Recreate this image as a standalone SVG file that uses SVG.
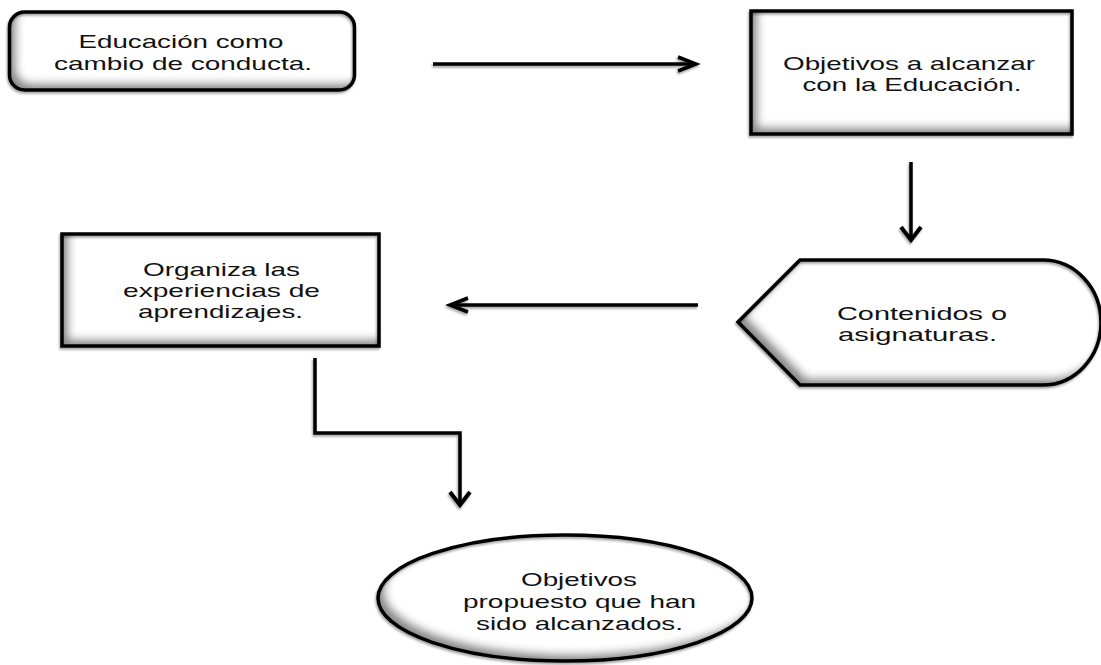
<svg xmlns="http://www.w3.org/2000/svg" width="1101" height="665" viewBox="0 0 1101 665">
  <style>
    .fill { fill: #ffffff; stroke: none; filter: url(#inset); }
    .edge { fill: none; stroke: #000; stroke-width: 3.5; filter: url(#drop); }
    .lbl { font-family: "Liberation Sans", Arial, sans-serif; font-size: 19px; fill: #111; text-anchor: middle; }
    .conn { fill: none; stroke: #000; stroke-width: 3.5; filter: url(#drop); }
  </style>
  <defs>
    <filter id="inset" x="-10%" y="-20%" width="120%" height="140%">
      <feComponentTransfer in="SourceAlpha" result="inv">
        <feFuncA type="table" tableValues="1 0"/>
      </feComponentTransfer>
      <feOffset in="inv" dx="7" dy="-7" result="off"/>
      <feGaussianBlur in="off" stdDeviation="4" result="blur"/>
      <feComposite in="blur" in2="SourceAlpha" operator="in" result="sh"/>
      <feColorMatrix in="sh" type="matrix" values="0 0 0 0 0  0 0 0 0 0  0 0 0 0 0  0 0 0 0.75 0" result="sh2"/>
      <feMerge>
        <feMergeNode in="SourceGraphic"/>
        <feMergeNode in="sh2"/>
      </feMerge>
    </filter>
    <filter id="drop" filterUnits="userSpaceOnUse" x="0" y="0" width="1101" height="665">
      <feDropShadow dx="-1" dy="2" stdDeviation="1.2" flood-color="#000" flood-opacity="0.35"/>
    </filter>
    <marker id="ah" markerUnits="userSpaceOnUse" viewBox="-25 -15 30 30" markerWidth="30" markerHeight="30" refX="0" refY="0" orient="auto" overflow="visible">
      <path d="M-18,-7 L0,0 L-18,7" fill="none" stroke="#000" stroke-width="3.5" stroke-linejoin="miter"/>
    </marker>
    <marker id="av" markerUnits="userSpaceOnUse" viewBox="-25 -15 30 30" markerWidth="30" markerHeight="30" refX="0" refY="0" orient="auto" overflow="visible">
      <path d="M-13,-10 L0,0 L-13,10" fill="none" stroke="#000" stroke-width="4" stroke-linejoin="miter"/>
    </marker>
  </defs>

  <rect width="1101" height="665" fill="#ffffff"/>

  <g id="n1">
    <rect class="fill" x="9.5" y="12" width="345" height="78" rx="15"/>
    <rect class="edge" x="9.5" y="12" width="345" height="78" rx="15"/>
    <text class="lbl" x="181" y="48" textLength="205" lengthAdjust="spacingAndGlyphs">Educación como</text>
    <text class="lbl" x="183" y="69.5" textLength="258" lengthAdjust="spacingAndGlyphs">cambio de conducta.</text>
  </g>

  <g id="n2">
    <rect class="fill" x="751" y="11" width="321" height="123"/>
    <rect class="edge" x="751" y="11" width="321" height="123"/>
    <text class="lbl" x="909" y="69.5" textLength="252" lengthAdjust="spacingAndGlyphs">Objetivos a alcanzar</text>
    <text class="lbl" x="912" y="90.5" textLength="219" lengthAdjust="spacingAndGlyphs">con la Educación.</text>
  </g>

  <g id="n3">
    <rect class="fill" x="62" y="234" width="317" height="112"/>
    <rect class="edge" x="62" y="234" width="317" height="112"/>
    <text class="lbl" x="221.5" y="276" textLength="157" lengthAdjust="spacingAndGlyphs">Organiza las</text>
    <text class="lbl" x="221.5" y="297" textLength="197" lengthAdjust="spacingAndGlyphs">experiencias de</text>
    <text class="lbl" x="220.5" y="318" textLength="165" lengthAdjust="spacingAndGlyphs">aprendizajes.</text>
  </g>

  <g id="n4">
    <path class="fill" d="M738,322 L800,260 L1043,260 A58,62.5 0 0 1 1043,385 L800,385 Z"/>
    <path class="edge" d="M738,322 L800,260 L1043,260 A58,62.5 0 0 1 1043,385 L800,385 Z"/>
    <text class="lbl" x="922" y="320" textLength="170" lengthAdjust="spacingAndGlyphs">Contenidos o</text>
    <text class="lbl" x="917.5" y="341" textLength="159" lengthAdjust="spacingAndGlyphs">asignaturas.</text>
  </g>

  <g id="n5">
    <ellipse class="fill" cx="565" cy="598" rx="187" ry="63"/>
    <ellipse class="edge" cx="565" cy="598" rx="187" ry="63"/>
    <text class="lbl" x="579" y="586" textLength="116" lengthAdjust="spacingAndGlyphs">Objetivos</text>
    <text class="lbl" x="579.5" y="608" textLength="233" lengthAdjust="spacingAndGlyphs">propuesto que han</text>
    <text class="lbl" x="579.5" y="630" textLength="207" lengthAdjust="spacingAndGlyphs">sido alcanzados.</text>
  </g>

  <g id="connectors">
    <line class="conn" x1="433" y1="64" x2="696" y2="64" marker-end="url(#ah)"/>
    <line class="conn" x1="911" y1="162" x2="911" y2="240" stroke-width="4" marker-end="url(#av)"/>
    <line class="conn" x1="698" y1="305" x2="450" y2="305" marker-end="url(#ah)"/>
    <path class="conn" d="M315,358 L315,433 L460,433 L460,505" stroke-linejoin="miter" marker-end="url(#av)"/>
  </g>
</svg>
